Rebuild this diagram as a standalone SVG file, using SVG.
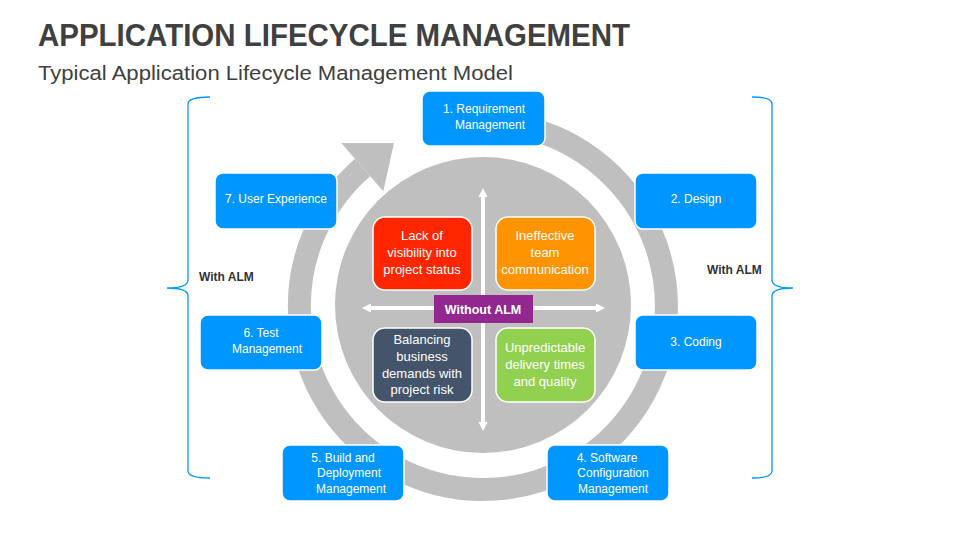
<svg xmlns="http://www.w3.org/2000/svg" width="960" height="540" viewBox="0 0 960 540">
<defs>
<style>
.title{font-family:"Liberation Sans",Arial,sans-serif;font-weight:bold;fill:#404040}
.sub{font-family:"Liberation Sans",Arial,sans-serif;fill:#404040}
.box{fill:#0096FF;stroke:#FFFFFF;stroke-width:1.5}
.bt{font-family:"Liberation Sans",Arial,sans-serif;font-size:12px;fill:#FFFFFF;text-anchor:middle}
.qt{font-family:"Liberation Sans",Arial,sans-serif;font-size:13px;fill:#FFFFFF;text-anchor:middle}
.q{stroke:#FFFFFF;stroke-width:1.5}
.alm{font-family:"Liberation Sans",Arial,sans-serif;font-size:12px;font-weight:bold;fill:#333333}
.brace{fill:none;stroke:#0096FF;stroke-width:1.3}
.cross{stroke:#FFFFFF;stroke-width:4;fill:none}
</style>
<marker id="ah" viewBox="0 0 10 10" refX="0" refY="5" markerWidth="9" markerHeight="10" markerUnits="userSpaceOnUse" orient="auto">
<path d="M0,0 L10,5 L0,10 z" fill="#FFFFFF"/>
</marker>
</defs>
<rect width="960" height="540" fill="#FFFFFF"/>
<text class="title" x="38" y="46" font-size="32" textLength="592" lengthAdjust="spacingAndGlyphs">APPLICATION LIFECYCLE MANAGEMENT</text>
<text class="sub" x="38" y="80" font-size="20" textLength="475" lengthAdjust="spacingAndGlyphs">Typical Application Lifecycle Management Model</text>

<g id="connectors">
<path d="M 435.5 128.8 A 183.5 183.5 0 1 1 362.6 167.5" fill="none" stroke="#BFBFBF" stroke-width="23"/>
<path d="M 341.3 142.9 L 394 143 L 383.3 191.2 Z" fill="#BFBFBF"/>
<circle cx="483" cy="305" r="148" fill="#BFBFBF"/>
<line class="cross" x1="483" y1="422" x2="483" y2="197" marker-end="url(#ah)"/>
<line class="cross" x1="483" y1="197" x2="483" y2="422" marker-end="url(#ah)"/>
<line class="cross" x1="371" y1="308" x2="596" y2="308" marker-end="url(#ah)"/>
<line class="cross" x1="596" y1="308" x2="371" y2="308" marker-end="url(#ah)"/>
<path class="brace" d="M 210 97 Q 188 97 188 104 L 188 280 Q 188 288 167 288 Q 188 288 188 296 L 188 471 Q 188 478 210 478"/>
<path class="brace" d="M 752 97 Q 772 97 772 104 L 772 280 Q 772 288 793 288 Q 772 288 772 296 L 772 471 Q 772 478 752 478"/>
</g>

<g id="n1"><rect class="box" x="422" y="91" width="123" height="55" rx="8"/>
<text class="bt" x="484" y="113">1. Requirement</text><text class="bt" x="490" y="129">Management</text></g>
<g id="n2"><rect class="box" x="635" y="173" width="122" height="56" rx="8"/>
<text class="bt" x="696" y="203">2. Design</text></g>
<g id="n3"><rect class="box" x="635" y="315" width="122" height="55" rx="8"/>
<text class="bt" x="696" y="346">3. Coding</text></g>
<g id="n4"><rect class="box" x="547" y="445" width="122" height="56" rx="8"/>
<text class="bt" x="607" y="462">4. Software</text><text class="bt" x="613" y="477">Configuration</text><text class="bt" x="613" y="493">Management</text></g>
<g id="n5"><rect class="box" x="282" y="445" width="122" height="56" rx="8"/>
<text class="bt" x="343" y="462">5. Build and</text><text class="bt" x="349" y="477">Deployment</text><text class="bt" x="351" y="493">Management</text></g>
<g id="n6"><rect class="box" x="200" y="315" width="122" height="55" rx="8"/>
<text class="bt" x="261" y="337">6. Test</text><text class="bt" x="267" y="353">Management</text></g>
<g id="n7"><rect class="box" x="215" y="173" width="122" height="56" rx="8"/>
<text class="bt" x="276" y="203">7. User Experience</text></g>

<g id="q1"><rect class="q" x="373" y="217" width="99" height="73" rx="12" fill="#FF2600"/>
<text class="qt" x="422" y="240">Lack of</text><text class="qt" x="422" y="257">visibility into</text><text class="qt" x="422" y="274">project status</text></g>
<g id="q2"><rect class="q" x="496" y="217" width="99" height="73" rx="12" fill="#FF9300"/>
<text class="qt" x="545" y="240">Ineffective</text><text class="qt" x="545" y="257">team</text><text class="qt" x="545" y="274">communication</text></g>
<g id="q3"><rect class="q" x="373" y="328" width="99" height="74" rx="12" fill="#44546A"/>
<text class="qt" x="422" y="344">Balancing</text><text class="qt" x="422" y="361">business</text><text class="qt" x="422" y="378">demands with</text><text class="qt" x="422" y="394">project risk</text></g>
<g id="q4"><rect class="q" x="496" y="328" width="99" height="74" rx="12" fill="#92D050"/>
<text class="qt" x="545" y="352">Unpredictable</text><text class="qt" x="545" y="369">delivery times</text><text class="qt" x="545" y="386">and quality</text></g>
<g id="center"><rect x="434" y="295" width="99" height="28" fill="#92278F"/>
<text x="483" y="313.5" font-family="Liberation Sans, Arial, sans-serif" font-size="12.5" font-weight="bold" fill="#FFFFFF" text-anchor="middle">Without ALM</text></g>
<g id="withL"><text class="alm" x="199" y="281">With ALM</text></g>
<g id="withR"><text class="alm" x="707" y="274">With ALM</text></g>
</svg>
